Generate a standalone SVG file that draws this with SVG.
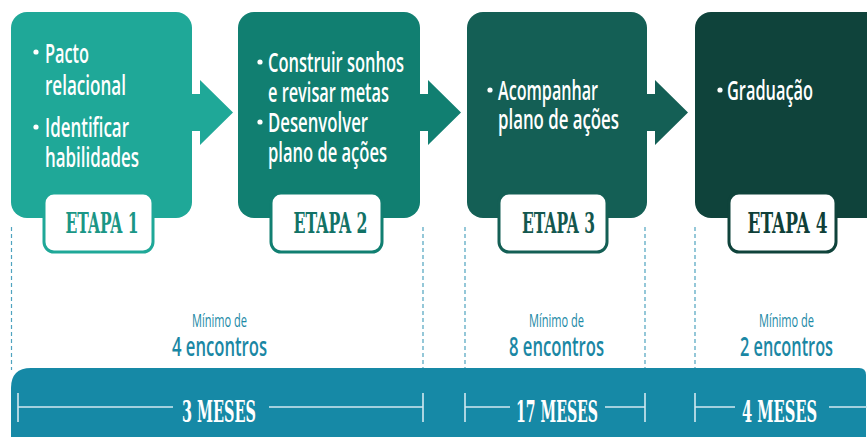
<svg xmlns="http://www.w3.org/2000/svg" width="867" height="437" viewBox="0 0 867 437">
<style>
.body{font-family:"Open Sans","Noto Sans","Liberation Sans",sans-serif;font-size:27.5px;font-weight:600;fill:#ffffff}
.lbl{fill:#ffffff;stroke-width:3}
.etapa{font-family:"DejaVu Serif Condensed","DejaVu Serif","Liberation Serif",serif;font-size:28px;font-weight:bold;text-anchor:middle}
.min{font-family:"Open Sans","Noto Sans","Liberation Sans",sans-serif;font-size:18px;font-weight:500;fill:#1d8aa6;text-anchor:middle}
.enc{font-family:"Open Sans","Noto Sans","Liberation Sans",sans-serif;font-size:27px;font-weight:600;fill:#1a87a4;text-anchor:middle}
.meses{font-family:"DejaVu Serif Condensed","DejaVu Serif","Liberation Serif",serif;font-size:30px;font-weight:bold;fill:#ffffff;text-anchor:middle}
.dash{stroke:#4fa3bf;stroke-width:1.2;stroke-dasharray:4 3;fill:none}
.tl{stroke:#d2e9f0;stroke-width:1.6;fill:none}
</style>

<!-- connectors -->
<g id="connectors">
  <path d="M190,94 H200 V80 L233,112.5 L200,145 V131 H190 Z" fill="#1fa898"/>
  <path d="M418,94 H428 V80 L461,112.5 L428,145 V131 H418 Z" fill="#117f71"/>
  <path d="M645,94 H655 V80 L688,112.5 L655,145 V131 H645 Z" fill="#145f55"/>
</g>

<!-- dashed guides -->
<g id="guides">
  <line class="dash" x1="11.5" y1="227" x2="11.5" y2="370"/>
  <line class="dash" x1="423" y1="227" x2="423" y2="370"/>
  <line class="dash" x1="465" y1="227" x2="465" y2="370"/>
  <line class="dash" x1="645" y1="227" x2="645" y2="370"/>
  <line class="dash" x1="695" y1="227" x2="695" y2="370"/>
</g>

<g id="etapa1">
  <rect x="11" y="12" width="181" height="206" rx="16" fill="#1fa898"/>
  <circle cx="36" cy="52" r="2.6" fill="#fff"/>
  <text class="body" x="45" y="63" textLength="44" lengthAdjust="spacingAndGlyphs">Pacto</text>
  <text class="body" x="45" y="95" textLength="81" lengthAdjust="spacingAndGlyphs">relacional</text>
  <circle cx="36" cy="127" r="2.6" fill="#fff"/>
  <text class="body" x="45" y="137" textLength="84" lengthAdjust="spacingAndGlyphs">Identificar</text>
  <text class="body" x="45" y="167" textLength="94" lengthAdjust="spacingAndGlyphs">habilidades</text>
  <rect class="lbl" x="44" y="193" width="109" height="59" rx="10" stroke="#1fa898"/>
  <text class="etapa" x="102" y="233" fill="#1a9686" textLength="73" lengthAdjust="spacingAndGlyphs">ETAPA 1</text>
</g>

<g id="etapa2">
  <rect x="238" y="12" width="182" height="206" rx="16" fill="#117f71"/>
  <circle cx="260" cy="62" r="2.6" fill="#fff"/>
  <text class="body" x="268" y="72" textLength="136" lengthAdjust="spacingAndGlyphs">Construir sonhos</text>
  <text class="body" x="268" y="102" textLength="121" lengthAdjust="spacingAndGlyphs">e revisar metas</text>
  <circle cx="260" cy="122" r="2.6" fill="#fff"/>
  <text class="body" x="268" y="132" textLength="100" lengthAdjust="spacingAndGlyphs">Desenvolver</text>
  <text class="body" x="268" y="162" textLength="119" lengthAdjust="spacingAndGlyphs">plano de ações</text>
  <rect class="lbl" x="271" y="193" width="111" height="59" rx="10" stroke="#117f71"/>
  <text class="etapa" x="330.5" y="233" fill="#117266" textLength="74" lengthAdjust="spacingAndGlyphs">ETAPA 2</text>
</g>

<g id="etapa3">
  <rect x="467" y="12" width="180" height="206" rx="16" fill="#145f55"/>
  <circle cx="490" cy="90" r="2.6" fill="#fff"/>
  <text class="body" x="498" y="100" textLength="100" lengthAdjust="spacingAndGlyphs">Acompanhar</text>
  <text class="body" x="498" y="129" textLength="121" lengthAdjust="spacingAndGlyphs">plano de ações</text>
  <rect class="lbl" x="499" y="193" width="108" height="59" rx="10" stroke="#145f55"/>
  <text class="etapa" x="558.5" y="233" fill="#13574e" textLength="73" lengthAdjust="spacingAndGlyphs">ETAPA 3</text>
</g>

<g id="etapa4">
  <rect x="695" y="12" width="190" height="206" rx="16" fill="#0f433b"/>
  <circle cx="720" cy="90" r="2.6" fill="#fff"/>
  <text class="body" x="727" y="100" textLength="86" lengthAdjust="spacingAndGlyphs">Graduação</text>
  <rect class="lbl" x="729" y="193" width="107" height="59" rx="10" stroke="#0f433b"/>
  <text class="etapa" x="787.5" y="233" fill="#0f3f38" textLength="80" lengthAdjust="spacingAndGlyphs">ETAPA 4</text>
</g>

<g id="encontros">
  <text class="min" x="219.5" y="327" textLength="55" lengthAdjust="spacingAndGlyphs">Mínimo de</text>
  <text class="enc" x="219.5" y="356" textLength="95" lengthAdjust="spacingAndGlyphs">4 encontros</text>
  <text class="min" x="556.5" y="327" textLength="55" lengthAdjust="spacingAndGlyphs">Mínimo de</text>
  <text class="enc" x="556.5" y="356" textLength="95" lengthAdjust="spacingAndGlyphs">8 encontros</text>
  <text class="min" x="786.5" y="327" textLength="55" lengthAdjust="spacingAndGlyphs">Mínimo de</text>
  <text class="enc" x="786.5" y="356" textLength="93" lengthAdjust="spacingAndGlyphs">2 encontros</text>
</g>

<g id="timeline">
  <path d="M31,368 H859 Q866,368 866,375 V450 H11 V388 Q11,368 31,368 Z" fill="#1689a6"/>
  <g id="periodo1">
    <line class="tl" x1="18" y1="393" x2="18" y2="422"/>
    <line class="tl" x1="18" y1="407" x2="173" y2="407"/>
    <text class="meses" x="219" y="422" textLength="74" lengthAdjust="spacingAndGlyphs">3 MESES</text>
    <line class="tl" x1="269" y1="407" x2="423" y2="407"/>
    <line class="tl" x1="423" y1="393" x2="423" y2="422"/>
  </g>
  <g id="periodo2">
    <line class="tl" x1="465" y1="393" x2="465" y2="422"/>
    <line class="tl" x1="465" y1="407" x2="510" y2="407"/>
    <text class="meses" x="557" y="422" textLength="82" lengthAdjust="spacingAndGlyphs">17 MESES</text>
    <line class="tl" x1="605" y1="407" x2="645" y2="407"/>
    <line class="tl" x1="645" y1="393" x2="645" y2="422"/>
  </g>
  <g id="periodo3">
    <line class="tl" x1="695" y1="393" x2="695" y2="422"/>
    <line class="tl" x1="695" y1="407" x2="735" y2="407"/>
    <text class="meses" x="779.5" y="422" textLength="75" lengthAdjust="spacingAndGlyphs">4 MESES</text>
    <line class="tl" x1="829" y1="407" x2="867" y2="407"/>
  </g>
</g>
</svg>
